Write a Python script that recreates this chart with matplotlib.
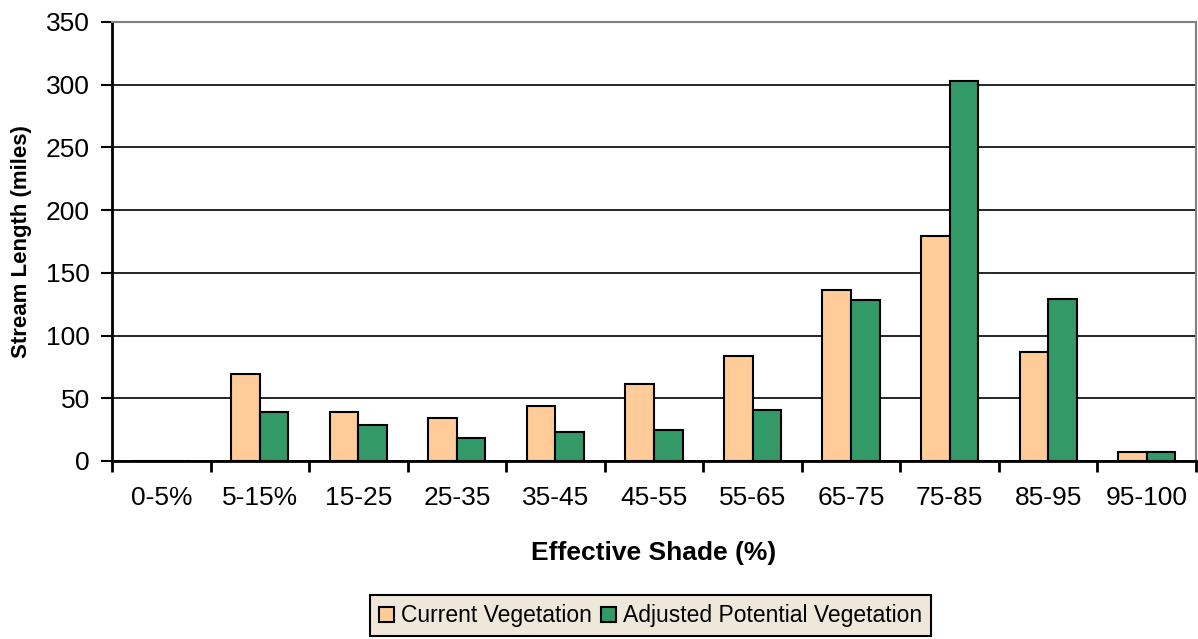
import matplotlib.pyplot as plt
import numpy as np

categories = ['0-5%', '5-15%', '15-25', '25-35', '35-45', '45-55', '55-65',
              '65-75', '75-85', '85-95', '95-100']
current_veg = [0, 69, 39, 34, 44, 61, 84, 136, 179, 87, 7]
adjusted_veg = [0, 39, 29, 18, 23, 25, 41, 128, 303, 129, 7]

plt.rcParams['font.family'] = ['Liberation Sans', 'DejaVu Sans']

fig = plt.figure(figsize=(11.98, 6.39), dpi=100)
ax = fig.add_axes([0.0935, 0.2786, 0.9048, 0.687])

x = np.arange(len(categories))
w = 0.29
ax.bar(x - w / 2, current_veg, w, color='#FFCC99', edgecolor='black', linewidth=1.5,
       label='Current Vegetation', zorder=3)
ax.bar(x + w / 2, adjusted_veg, w, color='#339966', edgecolor='black', linewidth=1.5,
       label='Adjusted Potential Vegetation', zorder=3)

ax.set_xlim(-0.5, len(categories) - 0.5)
ax.set_ylim(0, 350)
ax.set_yticks(range(0, 351, 50))
ax.yaxis.grid(True, color='black', linewidth=1.2, zorder=0)
ax.set_axisbelow(True)

# category labels centred, tick marks at boundaries
ax.set_xticks(np.arange(len(categories) + 1) - 0.5)
ax.set_xticklabels([])
ax.set_xticks(x, minor=True)
ax.set_xticklabels(categories, minor=True, fontsize=19)
ax.tick_params(axis='x', which='minor', length=0, pad=18)
ax.tick_params(axis='x', which='major', length=8, width=2, direction='out')
ax.tick_params(axis='y', length=8, width=1.5, labelsize=19, pad=8)

for s in ['left', 'bottom']:
    ax.spines[s].set_linewidth(2)
for s in ['top', 'right']:
    ax.spines[s].set_color('#808080')
    ax.spines[s].set_linewidth(1.5)

ax.set_ylabel('Stream Length (miles)', fontsize=16, fontweight='bold', labelpad=10)
ax.set_xlabel('Effective Shade (%)', fontsize=19, fontweight='bold', labelpad=22)

leg = fig.legend(loc='lower center', bbox_to_anchor=(0.543, -0.014), ncol=2, fontsize=16.5,
                 frameon=True, fancybox=False, handlelength=0.65, handleheight=0.65,
                 handletextpad=0.3, columnspacing=0.4, borderpad=0.4)
leg.get_frame().set_facecolor('#EFE7D9')
leg.get_frame().set_edgecolor('black')
leg.get_frame().set_linewidth(1.5)
leg.get_frame().set_alpha(1)

fig.savefig('out.png', dpi=100)
